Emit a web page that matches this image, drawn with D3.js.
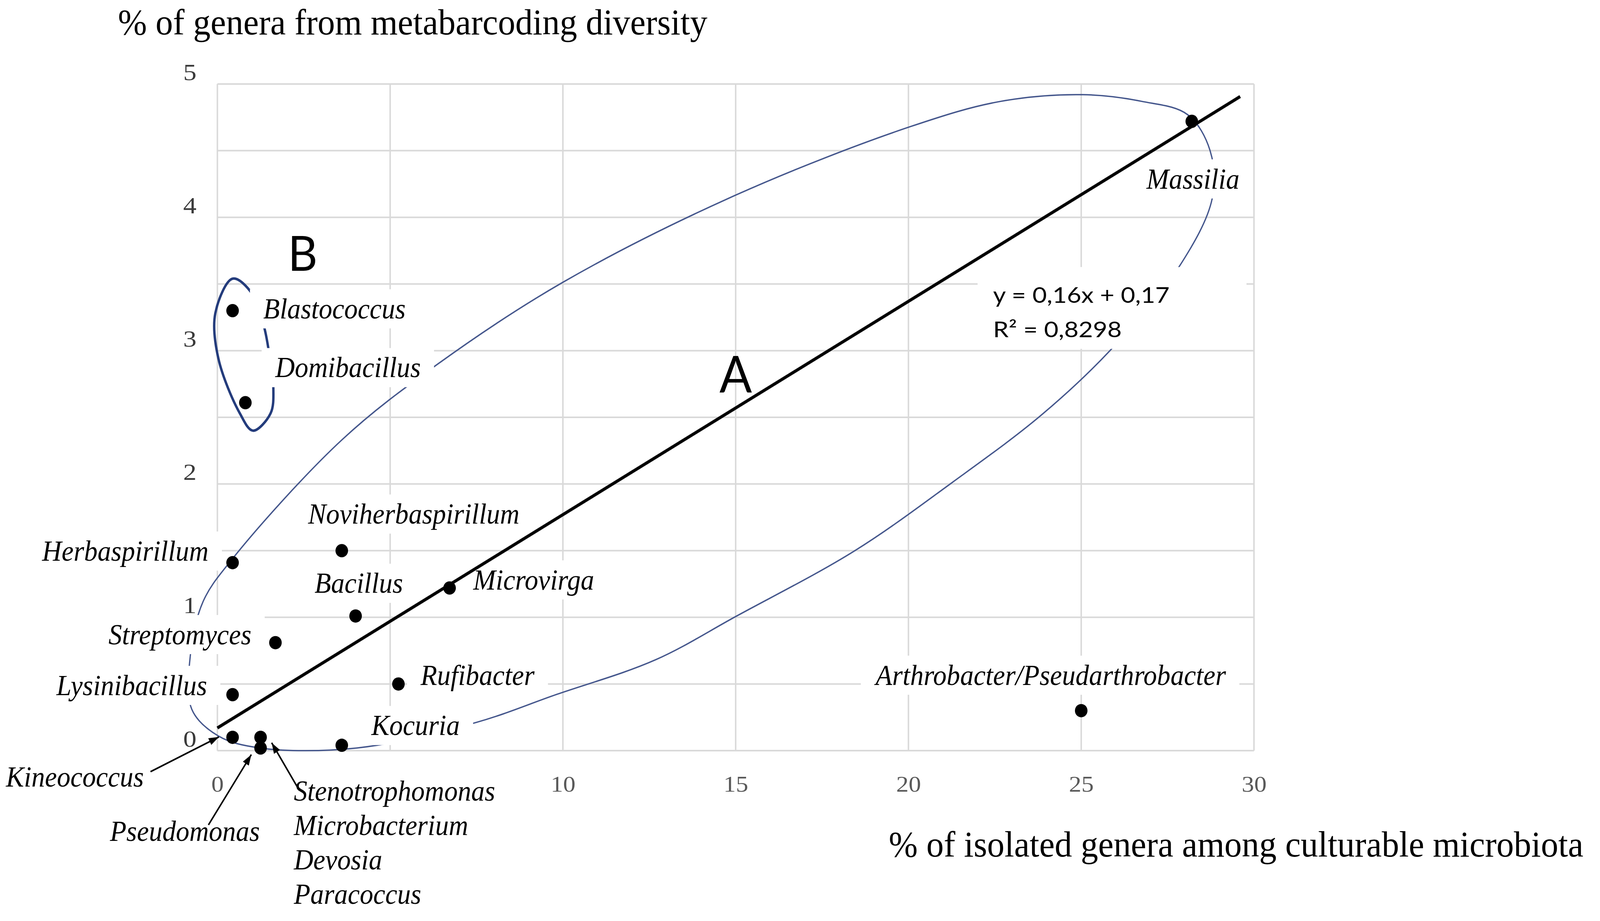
<!DOCTYPE html>
<html>
<head>
<meta charset="utf-8">
<script src="https://cdnjs.cloudflare.com/ajax/libs/d3/7.8.5/d3.min.js"></script>
<style>
  html, body { margin: 0; padding: 0; background: #fff; overflow: hidden; }
  svg { display: block; }
</style>
</head>
<body>
<div class="chart"></div>
<script>
var width = 4328,
    height = 2357;

// genera: x = % among culturable isolates, y = % from metabarcoding
var genera = ["Massilia", "Blastococcus", "Domibacillus", "Herbaspirillum", "Noviherbaspirillum",
  "Bacillus", "Microvirga", "Streptomyces", "Rufibacter", "Lysinibacillus",
  "Arthrobacter/Pseudarthrobacter", "Kineococcus",
  "Stenotrophomonas;Microbacterium;Devosia;Paracoccus", "Pseudomonas", "Kocuria"];
var culturable = [28.2, 0.44, 0.81, 0.44, 3.6, 4.0, 6.72, 1.68, 5.24, 0.44, 25.0, 0.44, 1.25, 1.25, 3.6];
var metabarcoding = [4.72, 3.30, 2.61, 1.41, 1.50, 1.01, 1.22, 0.81, 0.50, 0.42, 0.30, 0.10, 0.10, 0.02, 0.04];

var xTicks = [0, 5, 10, 15, 20, 25, 30];
var xTickLabels = ["0", "", "10", "15", "20", "25", "30"];   // the 5 sits under a label box
var yTicks = [0, 1, 2, 3, 4, 5];
var yGrid = [0, 0.5, 1, 1.5, 2, 2.5, 3, 3.5, 4, 4.5, 5];

// linear trend printed on the chart
var trendSlope = 0.16,
    trendIntercept = 0.17,
    trendRange = [0, 29.6];
var trendText = ["y = 0,16x + 0,17", "R\u00b2 = 0,8298"];

// hand drawn groupings, traced in data units
var clusterA = [[-0.74, 0.31], [0.03, 0.11], [1.24, 0.02], [4.04, 0.02], [7.47, 0.21], [9.8, 0.42],
  [12.67, 0.68], [15.03, 1.01], [18.45, 1.5], [21.26, 2.01], [23.86, 2.52], [25.83, 3.0],
  [27.81, 3.62], [28.79, 4.14], [28.73, 4.5], [28.08, 4.77], [26.75, 4.87], [25.04, 4.92],
  [22.67, 4.87], [20.05, 4.68], [15.03, 4.17], [9.98, 3.51], [6.38, 2.9], [3.6, 2.33],
  [0.44, 1.44], [-0.41, 1.12], [-0.78, 0.72]];
var clusterB = [[0.44, 3.54], [0.94, 3.45], [1.33, 3.2], [1.51, 2.96], [1.62, 2.72], [1.54, 2.53],
  [1.03, 2.4], [0.65, 2.53], [0.03, 2.94], [-0.06, 3.28]];

// layout: label offsets from each point in px [dx, dy, anchor]
var labelLayout = [[129, 172, "end"], [83, 20, "start"], [81, -65, "start"], [-65, -5, "end"],
  [-91, -69, "start"], [-111, -59, "start"], [64, 4, "start"], [-65, 4, "end"], [60, 3, "start"],
  [-69, 1, "end"], [-556, -66, "start"], [-240, 126, "end"], [90, 162, "start"], [-2, 238, "end"],
  [80, -26, "start"]];
// arrows [x1, y1, x2, y2] relative to the point
var arrowLayout = { "Kineococcus": [-222, 88, -37, -1],
  "Pseudomonas": [-141, 197, -25, 17],
  "Stenotrophomonas;Microbacterium;Devosia;Paracoccus": [100, 128, 30, 14] };

var points = genera.map(function(g, i){ return {name: g, x: culturable[i], y: metabarcoding[i], lay: labelLayout[i]}; });

// drawn in a 4328x2357 frame, stretched to whatever the window really is
var svg = d3.select(".chart").append("svg")
  .attr("width", window.innerWidth || width).attr("height", window.innerHeight || height)
  .attr("viewBox", "0 0 " + width + " " + height).attr("preserveAspectRatio", "none")
  .style("background", "#fff");

var x = d3.scaleLinear().domain([0, 30]).range([588, 3392]);
var y = d3.scaleLinear().domain([0, 5]).range([1921, 215]);

var serif = "'Liberation Serif', 'Times New Roman', serif";
var sans = "Lato, 'Open Sans', sans-serif";

// grid
var grid = svg.append("g");
grid.selectAll("line.v").data(xTicks).enter().append("line")
  .attr("x1", d => x(d)).attr("x2", d => x(d)).attr("y1", y(5)).attr("y2", y(0))
  .attr("stroke", "#d9d9d9").attr("stroke-width", 4);
grid.selectAll("line.h").data(yGrid).enter().append("line")
  .attr("x1", x(0)).attr("x2", x(30)).attr("y1", d => y(d)).attr("y2", d => y(d))
  .attr("stroke", "#d9d9d9").attr("stroke-width", 4);

// x axis
var xAxis = svg.append("g").attr("transform", "translate(0," + y(0) + ")")
  .call(d3.axisBottom(x).tickValues(xTicks).tickSize(0).tickFormat((d, i) => xTickLabels[i]));
xAxis.select(".domain").remove();
xAxis.selectAll("text").attr("y", 85).attr("dy", "0.35em").attr("transform", "scale(1.2,1)")
  .style("font-family", serif).style("font-size", "56px").attr("fill", "#595959");

// titles
svg.append("text").attr("x", 319).attr("y", 88).text("% of genera from metabarcoding diversity")
  .style("font-family", serif).style("font-size", "94px").attr("fill", "#000");
svg.append("text").attr("x", 2404).attr("y", 2192).text("% of isolated genera among culturable microbiota")
  .style("font-family", serif).style("font-size", "94px").attr("fill", "#000");

// groupings
var outline = d3.line().x(d => x(d[0])).y(d => y(d[1])).curve(d3.curveCatmullRomClosed.alpha(0.5));
svg.append("path").attr("d", outline(clusterA)).attr("fill", "none")
  .attr("stroke", "#44568c").attr("stroke-width", 3.5);
svg.append("path").attr("d", outline(clusterB)).attr("fill", "none")
  .attr("stroke", "#243c7c").attr("stroke-width", 6.5);

// data labels with white boxes
var boxLayer = svg.append("g");
var textLayer = svg.append("g");
points.forEach(function(p){
  var px = x(p.x) + p.lay[0], py = y(p.y) + p.lay[1];
  var t = textLayer.append("text").attr("x", px).attr("y", py).attr("text-anchor", p.lay[2])
    .style("font-family", serif).style("font-style", "italic").style("font-size", "73px").attr("fill", "#000");
  p.name.split(";").forEach(function(line, k){
    t.append("tspan").attr("x", px).attr("dy", k == 0 ? 0 : 88).text(line);
  });
  var bb = t.node().getBBox();
  boxLayer.append("rect").attr("x", bb.x - 36).attr("y", bb.y - 10)
    .attr("width", bb.width + 72).attr("height", bb.height + 20).attr("fill", "#fff");
});

// y axis sits above the label boxes
var yAxis = svg.append("g").attr("transform", "translate(" + x(0) + ",0)")
  .call(d3.axisLeft(y).tickValues(yTicks).tickSize(0).tickFormat(d3.format("d")));
yAxis.select(".domain").remove();
yAxis.selectAll("text").attr("x", -47).attr("y", -32).attr("dy", "0.35em").attr("transform", "scale(1.2,1)")
  .style("font-family", serif).style("font-size", "60px").attr("fill", "#3a3a3a");

// arrows
svg.append("defs").append("marker").attr("id", "head").attr("viewBox", "0 0 13 9")
  .attr("refX", 13).attr("refY", 4.5).attr("markerWidth", 28).attr("markerHeight", 19)
  .attr("markerUnits", "userSpaceOnUse").attr("orient", "auto")
  .append("path").attr("d", "M0,0 L13,4.5 L0,9 z").attr("fill", "#000");
points.filter(p => arrowLayout[p.name]).forEach(function(p){
  var a = arrowLayout[p.name];
  svg.append("line").attr("x1", x(p.x) + a[0]).attr("y1", y(p.y) + a[1])
    .attr("x2", x(p.x) + a[2]).attr("y2", y(p.y) + a[3])
    .attr("stroke", "#000").attr("stroke-width", 4).attr("marker-end", "url(#head)");
});

// equation box
var eq = svg.append("g").attr("transform", "translate(" + x(22.45) + "," + y(3.36) + ")");
var eqBox = eq.append("rect").attr("fill", "#fff");
var eqText = eq.append("g").attr("transform", "scale(1.2,1)");
trendText.forEach(function(s, k){
  eqText.append("text").attr("x", 0).attr("y", k * 88).text(s)
    .style("font-family", sans).style("font-size", "56px").attr("fill", "#000");
});
var eb = eqText.node().getBBox();
eqBox.attr("x", eb.x * 1.2 - 42).attr("y", eb.y - 36).attr("width", eb.width * 1.2 + 250).attr("height", eb.height + 54);

// trend line
var trend = d3.line().x(d => x(d)).y(d => y(trendSlope * d + trendIntercept));
svg.append("path").attr("d", trend(trendRange)).attr("fill", "none")
  .attr("stroke", "#000").attr("stroke-width", 8);

// group letters
svg.append("text").attr("x", x(15)).attr("y", y(2.685)).attr("text-anchor", "middle").text("A")
  .style("font-family", sans).style("font-size", "130px").attr("fill", "#000");
svg.append("text").attr("x", x(2.47)).attr("y", y(3.6)).attr("text-anchor", "middle").text("B")
  .style("font-family", sans).style("font-size", "124px").attr("fill", "#000");

// points
svg.selectAll("circle").data(points).enter().append("circle")
  .attr("cx", d => x(d.x)).attr("cy", d => y(d.y)).attr("r", 17).attr("fill", "#000");
</script>
</body>
</html>
